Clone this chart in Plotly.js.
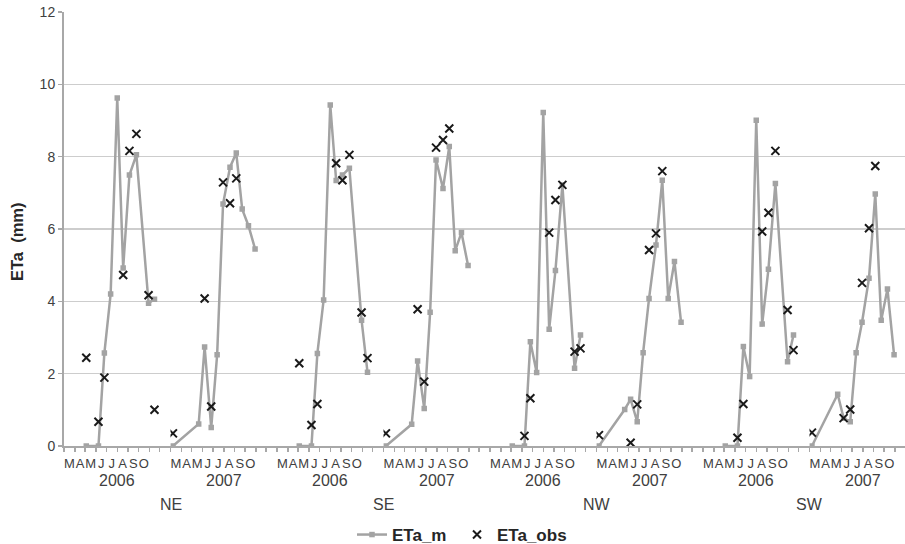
<!DOCTYPE html>
<html><head><meta charset="utf-8">
<script src="https://cdn.plot.ly/plotly-3.0.1.min.js"></script>
<style>html,body{margin:0;padding:0;overflow:hidden;background:#fff}#chart{width:905px;height:544px}</style>
</head><body><div id="chart"></div>
<script>
const sites = ['NE', 'SE', 'NW', 'SW'];
const years = ['2006', '2007'];
const monthAlias = {Mar: 'M', Apr: 'A', May: 'M', Jun: 'J', Jul: 'J', Aug: 'A', Sep: 'S', Oct: 'O', Nov: ' ', Dec: ' '};

const dates2006 = ['2006-05-04', '2006-06-08', '2006-06-25', '2006-07-13', '2006-08-01', '2006-08-18', '2006-09-05', '2006-09-25', '2006-10-30', '2006-11-16'];
const dates2007 = ['2007-03-08', '2007-05-21', '2007-06-07', '2007-06-26', '2007-07-13', '2007-07-30', '2007-08-19', '2007-09-06', '2007-09-23', '2007-10-11', '2007-10-30'];

const etaM_NE_2006 = [0, 0, 2.57, 4.2, 9.62, 4.92, 7.49, 8.05, 3.95, 4.06];
const etaObs_NE_2006 = [2.44, 0.67, 1.89, null, null, 4.73, 8.16, 8.63, 4.17, 1.0];
const etaM_NE_2007 = [0, 0.61, 2.74, 0.51, 2.52, 6.69, 7.71, 8.10, 6.55, 6.09, 5.45];
const etaObs_NE_2007 = [0.35, null, 4.08, 1.09, null, 7.29, 6.71, 7.40, null, null, null];

const etaM_SE_2006 = [0, 0, 2.56, 4.04, 9.43, 7.34, 7.49, 7.68, 3.48, 2.04];
const etaObs_SE_2006 = [2.29, 0.58, 1.16, null, null, 7.82, 7.35, 8.05, 3.69, 2.43];
const etaM_SE_2007 = [0, 0.6, 2.35, 1.04, 3.70, 7.91, 7.12, 8.28, 5.40, 5.90, 4.99];
const etaObs_SE_2007 = [0.35, null, 3.78, 1.78, null, 8.25, 8.46, 8.78, null, null, null];

const etaM_NW_2006 = [0, 0, 2.88, 2.03, 9.22, 3.23, 4.85, 7.22, 2.15, 3.07];
const etaObs_NW_2006 = [null, 0.28, 1.32, null, null, 5.90, 6.80, 7.22, 2.61, 2.70];
const etaM_NW_2007 = [0, 1.01, 1.29, 0.67, 2.58, 4.08, 5.56, 7.35, 4.08, 5.10, 3.42];
const etaObs_NW_2007 = [0.30, null, 0.09, 1.15, null, 5.42, 5.88, 7.60, null, null, null];

const etaM_SW_2006 = [0, 0, 2.75, 1.92, 9.01, 3.37, 4.89, 7.26, 2.33, 3.07];
const etaObs_SW_2006 = [null, 0.23, 1.16, null, null, 5.93, 6.45, 8.16, 3.76, 2.65];
const etaM_SW_2007 = [0, 1.43, 0.77, 0.67, 2.58, 3.42, 4.64, 6.97, 3.48, 4.34, 2.52];
const etaObs_SW_2007 = [0.37, null, 0.77, 1.01, null, 4.51, 6.02, 7.74, null, null, null];

const modelled = {
  NE: {'2006': etaM_NE_2006, '2007': etaM_NE_2007},
  SE: {'2006': etaM_SE_2006, '2007': etaM_SE_2007},
  NW: {'2006': etaM_NW_2006, '2007': etaM_NW_2007},
  SW: {'2006': etaM_SW_2006, '2007': etaM_SW_2007}
};
const observed = {
  NE: {'2006': etaObs_NE_2006, '2007': etaObs_NE_2007},
  SE: {'2006': etaObs_SE_2006, '2007': etaObs_SE_2007},
  NW: {'2006': etaObs_NW_2006, '2007': etaObs_NW_2007},
  SW: {'2006': etaObs_SW_2006, '2007': etaObs_SW_2007}
};
const datesByYear = {'2006': dates2006, '2007': dates2007};

const GREY = '#a3a3a3';
const AXIS = '#a8a8a8';
const TXT = '#404040';
const FONT = 'Liberation Sans, Arial, sans-serif';

// layout geometry: the original chart is cropped at the right edge
const W = 905, H = 544, ML = 64, MR = 0, MT = 12, MB = 98;
const plotW = W - ML - MR, plotH = H - MT - MB;
const blockPx = 106.5;
const blockFrac = blockPx / plotW;
const yPaper = px => (H - MB - px) / plotH;
const xPaper = px => (px - ML) / plotW;

const legendStyle = left => ({
  orientation: 'h', x: xPaper(left), xanchor: 'left', y: yPaper(535), yanchor: 'middle',
  font: {size: 17, color: '#262626', weight: 'bold'}, bgcolor: 'rgba(0,0,0,0)'
});

const traces = [];
const annotations = [{
  text: '<b>ETa  (mm)</b>', textangle: -90, xref: 'paper', x: xPaper(17), xanchor: 'center',
  yref: 'paper', y: yPaper(242), yanchor: 'middle', showarrow: false,
  font: {size: 16.5, color: '#262626'}
}];
const layout = {
  width: W, height: H,
  margin: {l: ML, r: MR, t: MT, b: MB, autoexpand: false},
  paper_bgcolor: '#fff', plot_bgcolor: '#fff',
  font: {family: FONT, color: TXT},
  showlegend: true,
  legend: legendStyle(352),
  legend2: legendStyle(457),
  yaxis: {range: [0, 12], dtick: 2, tick0: 0, showgrid: true, gridcolor: '#cdcdcd', gridwidth: 1.5,
          zeroline: false, showline: true, linecolor: AXIS, linewidth: 2,
          ticks: 'outside', ticklen: 4, tickcolor: AXIS, tickwidth: 1.5,
          tickfont: {size: 14, color: TXT}, automargin: false,
          fixedrange: true},
  annotations: annotations
};

sites.forEach((site, si) => {
  years.forEach((yr, yi) => {
    const b = si * years.length + yi;
    const axId = b === 0 ? 'x' : 'x' + (b + 1);
    const axKey = b === 0 ? 'xaxis' : 'xaxis' + (b + 1);
    const nextYr = String(Number(yr) + 1);
    const d0 = Date.UTC(Number(yr), 2, 1), d1 = Date.UTC(Number(nextYr), 0, 1);
    const dStart = b * blockFrac;
    const dEnd = Math.min(1, (b + 1) * blockFrac);
    const visible = (dEnd - dStart) / blockFrac;
    const rangeEnd = new Date(d0 + (d1 - d0) * visible).toISOString().slice(0, 19).replace('T', ' ');
    traces.push({
      type: 'scatter', mode: 'lines+markers', name: 'ETa_m', legend: 'legend', legendgroup: 'm', showlegend: b === 0,
      x: datesByYear[yr], y: modelled[site][yr], xaxis: axId, yaxis: 'y',
      line: {color: GREY, width: 2.5}, marker: {symbol: 'square', size: 5.5, color: GREY},
      connectgaps: true, hoverinfo: 'skip'
    });
    traces.push({
      type: 'scatter', mode: 'markers', name: 'ETa_obs', legend: 'legend2', legendgroup: 'o', showlegend: b === 0,
      x: datesByYear[yr], y: observed[site][yr], xaxis: axId, yaxis: 'y',
      marker: {symbol: 'x-thin', size: 8, color: '#1a1a1a', line: {width: 2, color: '#1a1a1a'}},
      hoverinfo: 'skip'
    });
    layout[axKey] = {
      type: 'date', domain: [dStart, dEnd], anchor: 'y',
      range: [yr + '-03-01', rangeEnd],
      tick0: yr + '-03-01', dtick: 'M1', tickformat: '%b', ticklabelmode: 'period',
      labelalias: monthAlias, tickangle: 0, automargin: false,
      showgrid: false, zeroline: false, showline: true, linecolor: AXIS, linewidth: 2,
      ticks: 'outside', ticklen: 4, tickcolor: AXIS, tickwidth: 1.5,
      tickfont: {size: 13, color: TXT}, fixedrange: true
    };
    annotations.push({
      text: yr, xref: 'paper', x: dStart + blockFrac / 2, xanchor: 'center',
      yref: 'paper', y: yPaper(481), yanchor: 'middle', showarrow: false,
      font: {size: 16, color: TXT}
    });
  });
  annotations.push({
    text: site, xref: 'paper', x: (si * years.length + 1) * blockFrac, xanchor: 'center',
    yref: 'paper', y: yPaper(504), yanchor: 'middle', showarrow: false,
    font: {size: 16, color: TXT}
  });
});

Plotly.newPlot('chart', traces, layout, {displayModeBar: false, staticPlot: true});
</script>
</body></html>
